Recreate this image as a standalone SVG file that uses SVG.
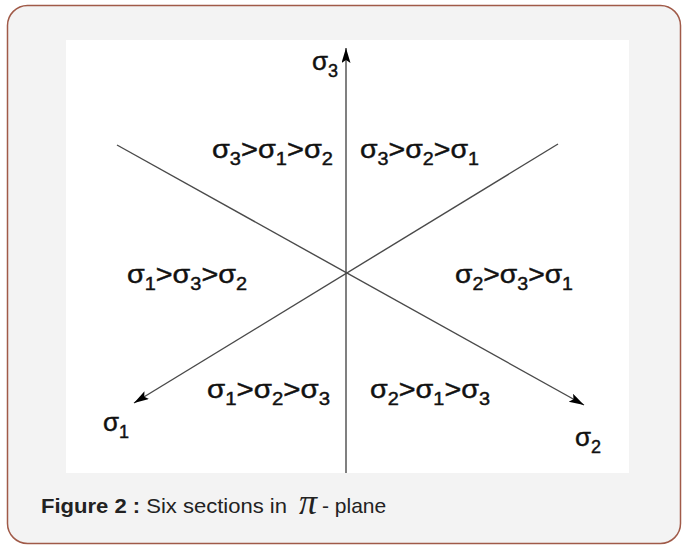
<svg xmlns="http://www.w3.org/2000/svg" width="682" height="545" viewBox="0 0 682 545">
<style>
.lbl{font-family:"Liberation Sans",Arial,sans-serif;font-size:26px;fill:#111;stroke:#111;stroke-width:0.45}
.sub{font-size:18px}
.ax{stroke:#4a4a4a;stroke-width:1.4;fill:none}
.cap{font-family:"Liberation Sans",Arial,sans-serif;font-size:21px;fill:#222}
</style>
<defs>
<marker id="arr" markerUnits="userSpaceOnUse" markerWidth="16" markerHeight="10" refX="15" refY="4.5" orient="auto">
<path d="M0,0 L15,4.5 L0,9 L3,4.5 z" fill="#000"/>
</marker>
</defs>
<rect x="7.5" y="5.5" width="673" height="538" rx="20" fill="#f3f3f3" stroke="#a05a48" stroke-width="1.5"/>
<rect x="66" y="40" width="563" height="433" fill="#fff"/>
<g id="connectors">
<line class="ax" x1="346" y1="473" x2="346" y2="48" marker-end="url(#arr)"/>
<line class="ax" x1="117" y1="145" x2="584" y2="405" marker-end="url(#arr)"/>
<line class="ax" x1="558" y1="144" x2="134" y2="403" marker-end="url(#arr)"/>
</g>
<g id="axis-s3"><text class="lbl" x="312" y="70">σ<tspan class="sub" dy="7">3</tspan></text></g>
<g id="axis-s1"><text class="lbl" x="103" y="431">σ<tspan class="sub" dy="7">1</tspan></text></g>
<g id="axis-s2"><text class="lbl" x="575" y="446">σ<tspan class="sub" dy="7">2</tspan></text></g>
<g id="r312"><text class="lbl" x="212" y="158" textLength="121" lengthAdjust="spacingAndGlyphs">σ<tspan class="sub" dy="7">3</tspan><tspan dy="-7">&gt;σ</tspan><tspan class="sub" dy="7">1</tspan><tspan dy="-7">&gt;σ</tspan><tspan class="sub" dy="7">2</tspan></text></g>
<g id="r321"><text class="lbl" x="360" y="158" textLength="119" lengthAdjust="spacingAndGlyphs">σ<tspan class="sub" dy="7">3</tspan><tspan dy="-7">&gt;σ</tspan><tspan class="sub" dy="7">2</tspan><tspan dy="-7">&gt;σ</tspan><tspan class="sub" dy="7">1</tspan></text></g>
<g id="r132"><text class="lbl" x="127" y="283" textLength="120" lengthAdjust="spacingAndGlyphs">σ<tspan class="sub" dy="7">1</tspan><tspan dy="-7">&gt;σ</tspan><tspan class="sub" dy="7">3</tspan><tspan dy="-7">&gt;σ</tspan><tspan class="sub" dy="7">2</tspan></text></g>
<g id="r231"><text class="lbl" x="455" y="283" textLength="118" lengthAdjust="spacingAndGlyphs">σ<tspan class="sub" dy="7">2</tspan><tspan dy="-7">&gt;σ</tspan><tspan class="sub" dy="7">3</tspan><tspan dy="-7">&gt;σ</tspan><tspan class="sub" dy="7">1</tspan></text></g>
<g id="r123"><text class="lbl" x="207" y="398" textLength="123" lengthAdjust="spacingAndGlyphs">σ<tspan class="sub" dy="7">1</tspan><tspan dy="-7">&gt;σ</tspan><tspan class="sub" dy="7">2</tspan><tspan dy="-7">&gt;σ</tspan><tspan class="sub" dy="7">3</tspan></text></g>
<g id="r213"><text class="lbl" x="370" y="398" textLength="120" lengthAdjust="spacingAndGlyphs">σ<tspan class="sub" dy="7">2</tspan><tspan dy="-7">&gt;σ</tspan><tspan class="sub" dy="7">1</tspan><tspan dy="-7">&gt;σ</tspan><tspan class="sub" dy="7">3</tspan></text></g>
<g id="caption">
<text class="cap" x="41" y="513" textLength="246" lengthAdjust="spacingAndGlyphs"><tspan font-weight="bold">Figure 2 :</tspan> Six sections in</text>
<text x="299" y="514" font-family="Liberation Serif,serif" font-style="italic" font-size="36" fill="#222">π</text>
<text class="cap" x="322" y="513">- plane</text>
</g>
</svg>
